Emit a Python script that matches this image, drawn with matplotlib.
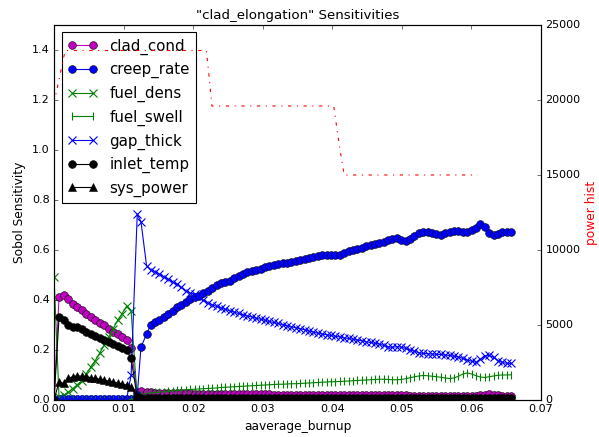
import matplotlib
matplotlib.use("Agg")
import matplotlib.pyplot as plt

plt.style.use("classic")

# burnup sample points
burnup = [0.0, 0.00072, 0.00137, 0.00202, 0.00266, 0.00331, 0.00396, 0.00461,
          0.00525, 0.00590, 0.00655, 0.00719, 0.00784, 0.00849, 0.00914, 0.00978,
          0.01043, 0.01108, 0.01196, 0.01250, 0.01330, 0.01387, 0.01452, 0.01515,
          0.01578, 0.01642, 0.01705, 0.01768, 0.01831, 0.01894, 0.01958, 0.02021,
          0.02084, 0.02147, 0.02210, 0.02274, 0.02337, 0.02400, 0.02463, 0.02526,
          0.02590, 0.02653, 0.02716, 0.02779, 0.02842, 0.02906, 0.02969, 0.03032,
          0.03095, 0.03158, 0.03222, 0.03285, 0.03348, 0.03411, 0.03474, 0.03538,
          0.03601, 0.03664, 0.03727, 0.03790, 0.03854, 0.03917, 0.03980, 0.04043,
          0.04106, 0.04170, 0.04233, 0.04296, 0.04359, 0.04422, 0.04486, 0.04549,
          0.04612, 0.04675, 0.04738, 0.04802, 0.04865, 0.04928, 0.04991, 0.05054,
          0.05118, 0.05181, 0.05244, 0.05307, 0.05370, 0.05434, 0.05497, 0.05560,
          0.05623, 0.05686, 0.05750, 0.05813, 0.05876, 0.05939, 0.06002, 0.06066,
          0.06129, 0.06192, 0.06255, 0.06318, 0.06382, 0.06445, 0.06508, 0.06571]

clad_cond = [0.0, 0.411, 0.418, 0.404, 0.382, 0.371, 0.358, 0.345,
             0.331, 0.318, 0.308, 0.298, 0.285, 0.272, 0.265, 0.252,
             0.241, 0.206, 0.030, 0.035, 0.032, 0.030, 0.029, 0.028,
             0.028, 0.027, 0.027, 0.027, 0.026, 0.026, 0.026, 0.025,
             0.025, 0.025, 0.025, 0.024, 0.024, 0.024, 0.024, 0.023,
             0.023, 0.023, 0.023, 0.023, 0.022, 0.022, 0.022, 0.022,
             0.022, 0.021, 0.021, 0.021, 0.021, 0.021, 0.021, 0.020,
             0.020, 0.020, 0.020, 0.020, 0.020, 0.020, 0.019, 0.019,
             0.019, 0.019, 0.019, 0.019, 0.019, 0.019, 0.018, 0.018,
             0.018, 0.018, 0.018, 0.018, 0.018, 0.018, 0.018, 0.018,
             0.017, 0.017, 0.017, 0.017, 0.017, 0.017, 0.017, 0.017,
             0.017, 0.017, 0.017, 0.017, 0.017, 0.017, 0.017, 0.017,
             0.018, 0.020, 0.022, 0.021, 0.019, 0.017, 0.017, 0.017]

creep_rate = [0.0, 0.003, 0.003, 0.003, 0.003, 0.003, 0.003, 0.003,
              0.003, 0.003, 0.003, 0.003, 0.003, 0.003, 0.003, 0.003,
              0.003, 0.003, 0.020, 0.212, 0.263, 0.298, 0.311, 0.321,
              0.333, 0.345, 0.357, 0.370, 0.381, 0.393, 0.404, 0.410,
              0.417, 0.426, 0.435, 0.447, 0.459, 0.467, 0.472, 0.477,
              0.487, 0.496, 0.504, 0.512, 0.517, 0.521, 0.525, 0.531,
              0.537, 0.540, 0.543, 0.546, 0.549, 0.552, 0.556, 0.560,
              0.564, 0.567, 0.571, 0.576, 0.578, 0.580, 0.581, 0.580,
              0.578, 0.589, 0.596, 0.601, 0.605, 0.609, 0.614, 0.618,
              0.622, 0.626, 0.632, 0.638, 0.643, 0.646, 0.641, 0.635,
              0.645, 0.656, 0.666, 0.670, 0.671, 0.668, 0.662, 0.660,
              0.666, 0.670, 0.675, 0.676, 0.673, 0.670, 0.679, 0.688,
              0.702, 0.690, 0.668, 0.659, 0.664, 0.670, 0.673, 0.673]

fuel_dens = [0.490, 0.010, 0.020, 0.030, 0.045, 0.060, 0.077, 0.105,
             0.130, 0.157, 0.187, 0.218, 0.250, 0.285, 0.318, 0.345,
             0.375, 0.355, 0.004, 0.004, 0.004, 0.004, 0.004, 0.004,
             0.004, 0.004, 0.004, 0.004, 0.004, 0.004, 0.004, 0.004,
             0.004, 0.004, 0.004, 0.004, 0.004, 0.004, 0.004, 0.004,
             0.004, 0.004, 0.004, 0.004, 0.004, 0.004, 0.004, 0.004,
             0.004, 0.004, 0.004, 0.004, 0.004, 0.004, 0.004, 0.004,
             0.004, 0.004, 0.004, 0.004, 0.004, 0.004, 0.004, 0.004,
             0.004, 0.004, 0.004, 0.004, 0.004, 0.004, 0.004, 0.004,
             0.004, 0.004, 0.004, 0.004, 0.004, 0.004, 0.004, 0.004,
             0.004, 0.004, 0.004, 0.004, 0.004, 0.004, 0.004, 0.004,
             0.004, 0.004, 0.004, 0.004, 0.004, 0.004, 0.004, 0.004,
             0.004, 0.004, 0.004, 0.004, 0.004, 0.004, 0.004, 0.004]

fuel_swell = [0.0, 0.002, 0.002, 0.002, 0.002, 0.002, 0.002, 0.002,
              0.002, 0.002, 0.002, 0.002, 0.002, 0.002, 0.002, 0.002,
              0.002, 0.002, 0.010, 0.022, 0.026, 0.028, 0.030, 0.031,
              0.033, 0.035, 0.036, 0.038, 0.040, 0.041, 0.042, 0.043,
              0.044, 0.045, 0.046, 0.047, 0.048, 0.050, 0.051, 0.052,
              0.053, 0.054, 0.055, 0.056, 0.057, 0.058, 0.059, 0.060,
              0.061, 0.062, 0.063, 0.063, 0.064, 0.065, 0.065, 0.066,
              0.067, 0.068, 0.069, 0.070, 0.071, 0.072, 0.073, 0.073,
              0.074, 0.075, 0.076, 0.077, 0.078, 0.079, 0.080, 0.081,
              0.082, 0.083, 0.083, 0.082, 0.081, 0.081, 0.082, 0.085,
              0.089, 0.093, 0.096, 0.098, 0.097, 0.095, 0.093, 0.091,
              0.088, 0.086, 0.088, 0.095, 0.104, 0.108, 0.104, 0.097,
              0.092, 0.090, 0.093, 0.096, 0.099, 0.100, 0.100, 0.101]

gap_thick = [0.0, 0.003, 0.003, 0.003, 0.003, 0.003, 0.003, 0.003,
             0.003, 0.003, 0.003, 0.003, 0.003, 0.003, 0.003, 0.003,
             0.003, 0.100, 0.743, 0.713, 0.537, 0.520, 0.513, 0.503,
             0.493, 0.482, 0.472, 0.462, 0.450, 0.437, 0.427, 0.425,
             0.412, 0.400, 0.388, 0.381, 0.374, 0.368, 0.362, 0.357,
             0.351, 0.346, 0.341, 0.336, 0.332, 0.327, 0.323, 0.319,
             0.314, 0.310, 0.306, 0.301, 0.297, 0.293, 0.289, 0.285,
             0.281, 0.276, 0.272, 0.267, 0.264, 0.261, 0.258, 0.255,
             0.252, 0.249, 0.246, 0.243, 0.240, 0.237, 0.233, 0.230,
             0.227, 0.224, 0.218, 0.212, 0.211, 0.213, 0.212, 0.206,
             0.200, 0.195, 0.189, 0.186, 0.185, 0.184, 0.183, 0.182,
             0.180, 0.178, 0.175, 0.172, 0.166, 0.160, 0.155, 0.151,
             0.162, 0.176, 0.178, 0.171, 0.157, 0.150, 0.147, 0.146]

inlet_temp = [0.0, 0.331, 0.318, 0.298, 0.292, 0.290, 0.282, 0.273,
              0.265, 0.257, 0.249, 0.240, 0.232, 0.224, 0.215, 0.207,
              0.199, 0.166, 0.010, 0.006, 0.006, 0.006, 0.006, 0.006,
              0.006, 0.006, 0.006, 0.006, 0.006, 0.006, 0.006, 0.006,
              0.006, 0.006, 0.006, 0.006, 0.006, 0.006, 0.006, 0.006,
              0.006, 0.006, 0.006, 0.006, 0.006, 0.006, 0.006, 0.006,
              0.006, 0.006, 0.006, 0.006, 0.006, 0.006, 0.006, 0.006,
              0.006, 0.006, 0.006, 0.006, 0.006, 0.006, 0.006, 0.006,
              0.006, 0.006, 0.006, 0.006, 0.006, 0.006, 0.006, 0.006,
              0.006, 0.006, 0.006, 0.006, 0.006, 0.006, 0.006, 0.006,
              0.006, 0.006, 0.006, 0.006, 0.006, 0.006, 0.006, 0.006,
              0.006, 0.006, 0.006, 0.006, 0.006, 0.006, 0.006, 0.006,
              0.006, 0.006, 0.006, 0.006, 0.006, 0.006, 0.006, 0.006]

sys_power = [0.0, 0.073, 0.066, 0.086, 0.093, 0.097, 0.095, 0.092,
             0.089, 0.086, 0.083, 0.079, 0.076, 0.072, 0.068, 0.064,
             0.060, 0.052, 0.015, 0.006, 0.006, 0.006, 0.006, 0.006,
             0.006, 0.006, 0.006, 0.006, 0.006, 0.006, 0.006, 0.006,
             0.006, 0.006, 0.006, 0.006, 0.006, 0.006, 0.006, 0.006,
             0.006, 0.006, 0.006, 0.006, 0.006, 0.006, 0.006, 0.006,
             0.006, 0.006, 0.006, 0.006, 0.006, 0.006, 0.006, 0.006,
             0.006, 0.006, 0.006, 0.006, 0.006, 0.006, 0.006, 0.006,
             0.006, 0.006, 0.006, 0.006, 0.006, 0.006, 0.006, 0.006,
             0.006, 0.006, 0.006, 0.006, 0.006, 0.006, 0.006, 0.006,
             0.006, 0.006, 0.006, 0.006, 0.006, 0.006, 0.006, 0.006,
             0.006, 0.006, 0.006, 0.006, 0.006, 0.006, 0.006, 0.006,
             0.006, 0.006, 0.006, 0.006, 0.006, 0.006, 0.006, 0.006]

# power history (right axis)
power_x = [0.0, 0.0016, 0.0219, 0.0223, 0.0227, 0.0402, 0.0410, 0.0417, 0.0609]
power_y = [19800, 23300, 23300, 21500, 19600, 19600, 17000, 15000, 15000]


def main():
    fig = plt.figure(figsize=(599 / 80.0, 437 / 80.0), dpi=80)
    ax = fig.add_axes([0.0902, 0.0847, 0.8130, 0.8581])

    ms = 7
    ax.plot(burnup, clad_cond, "m-o", ms=ms, mec="k", mew=0.5, label="clad_cond")
    ax.plot(burnup, creep_rate, "b-o", ms=ms, mec="k", mew=0.5, label="creep_rate")
    ax.plot(burnup, fuel_dens, "g-x", ms=ms, mec="g", mew=1, label="fuel_dens")
    ax.plot(burnup, fuel_swell, "g-|", ms=ms, mec="g", mew=1, label="fuel_swell")
    ax.plot(burnup, gap_thick, "b-x", ms=ms, mec="b", mew=1, label="gap_thick")
    ax.plot(burnup, inlet_temp, "k-o", ms=ms, mec="k", mew=0.5, label="inlet_temp")
    ax.plot(burnup, sys_power, "k-^", ms=ms, mec="k", mew=0.5, label="sys_power")

    ax.set_xlim(0, 0.07)
    ax.set_ylim(0, 1.5)
    ax.set_yticks([0.0, 0.2, 0.4, 0.6, 0.8, 1.0, 1.2, 1.4])
    ax.set_xlabel("aaverage_burnup", fontsize=11)
    ax.set_ylabel("Sobol Sensitivity", fontsize=11)
    ax.set_title('"clad_elongation" Sensitivities', fontsize=12)
    ax.tick_params(labelsize=10)
    ax.legend(loc="upper left", numpoints=2, fontsize=13.5)

    ax2 = ax.twinx()
    ax2.plot(power_x, power_y, "r-.")
    ax2.set_ylim(0, 25000)
    ax2.set_ylabel("power hist", color="r", fontsize=11, labelpad=4)
    ax2.tick_params(labelsize=10)

    fig.savefig("out.png", dpi=80)


if __name__ == "__main__":
    main()
